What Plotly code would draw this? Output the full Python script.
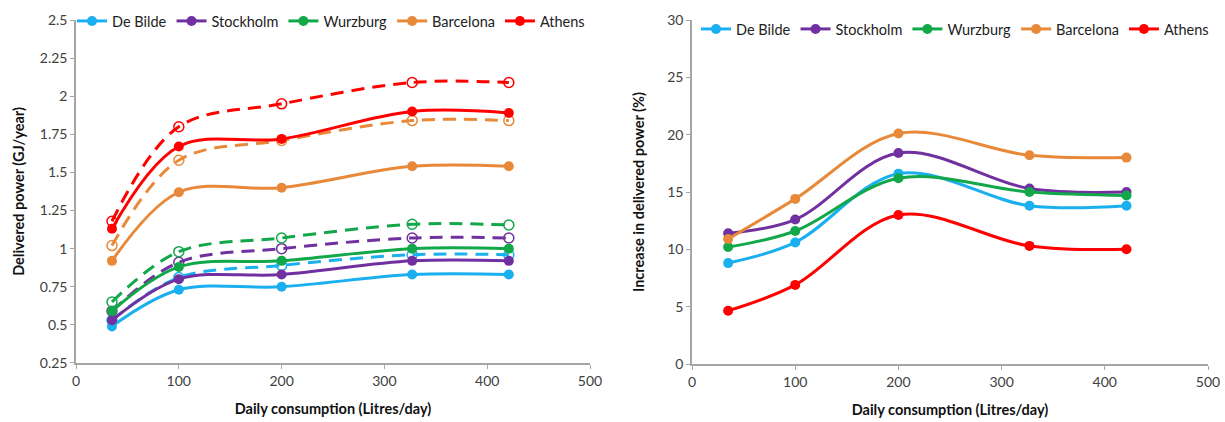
import plotly.graph_objects as go

x_vals = [35, 100, 200, 327, 421]
cities = ["De Bilde", "Stockholm", "Wurzburg", "Barcelona", "Athens"]
colors = ["#1AAFEF", "#7030A0", "#12A84A", "#E8893A", "#FF0000"]

# Left chart: delivered power (GJ/year), solid = base, dashed = improved
power_base = {
    "De Bilde":  [0.49, 0.73, 0.75, 0.83, 0.83],
    "Stockholm": [0.53, 0.80, 0.83, 0.92, 0.92],
    "Wurzburg":  [0.59, 0.88, 0.92, 1.00, 1.00],
    "Barcelona": [0.92, 1.37, 1.40, 1.54, 1.54],
    "Athens":    [1.13, 1.67, 1.72, 1.90, 1.89],
}
power_improved = {
    "De Bilde":  [0.53, 0.81, 0.89, 0.96, 0.96],
    "Stockholm": [0.59, 0.91, 1.00, 1.07, 1.07],
    "Wurzburg":  [0.65, 0.98, 1.07, 1.16, 1.155],
    "Barcelona": [1.02, 1.58, 1.71, 1.84, 1.84],
    "Athens":    [1.18, 1.80, 1.95, 2.09, 2.09],
}
# Right chart: increase in delivered power (%)
increase = {
    "De Bilde":  [8.8, 10.6, 16.6, 13.8, 13.8],
    "Stockholm": [11.4, 12.6, 18.4, 15.3, 15.0],
    "Wurzburg":  [10.2, 11.6, 16.2, 15.0, 14.7],
    "Barcelona": [10.9, 14.4, 20.1, 18.2, 18.0],
    "Athens":    [4.65, 6.9, 13.0, 10.3, 10.0],
}

x_ticks = [0, 100, 200, 300, 400, 500]
left_y_ticks = [0.25, 0.5, 0.75, 1, 1.25, 1.5, 1.75, 2, 2.25, 2.5]
right_y_ticks = [0, 5, 10, 15, 20, 25, 30]

FONT = "Lato"
fig = go.Figure()

for c, col in zip(cities, colors):
    fig.add_trace(go.Scatter(
        x=x_vals, y=power_improved[c], mode="lines+markers", name=c,
        line=dict(color=col, width=3, dash="13px,8px", shape="spline", smoothing=1),
        marker=dict(symbol="circle-open", size=10, color=col, line=dict(width=1.5)),
        showlegend=False, xaxis="x", yaxis="y"))
for c, col in zip(cities, colors):
    fig.add_trace(go.Scatter(
        x=x_vals, y=power_base[c], mode="lines+markers", name=c,
        line=dict(color=col, width=3, shape="spline", smoothing=1),
        marker=dict(symbol="circle", size=10, color=col),
        legend="legend", xaxis="x", yaxis="y"))
for c, col in zip(cities, colors):
    fig.add_trace(go.Scatter(
        x=x_vals, y=increase[c], mode="lines+markers", name=c,
        line=dict(color=col, width=3, shape="spline", smoothing=1),
        marker=dict(symbol="circle", size=10, color=col),
        legend="legend2", xaxis="x2", yaxis="y2"))

axis_common = dict(showgrid=False, zeroline=False, showline=True, linecolor="#A6A6A6",
                   linewidth=1.5, ticks="outside", ticklen=4, tickcolor="#A6A6A6",
                   automargin=False,
                   tickfont=dict(family=FONT, size=14, color="#404040"))
title_font = dict(family=FONT, size=14.5, color="#111111", weight="bold")

# plot area in pixels: l=76, r=17, t=20, b=58 -> width 1132, height 344
fig.update_layout(
    width=1225, height=422,
    margin=dict(l=76, r=17, t=20, b=58, autoexpand=False),
    paper_bgcolor="white", plot_bgcolor="white",
    xaxis=dict(domain=[0, 0.4541], range=[0, 500], tickvals=x_ticks,
               title=dict(text="Daily consumption (Litres/day)", font=title_font, standoff=16),
               anchor="y", **axis_common),
    yaxis=dict(domain=[0.003, 1], range=[0.25, 2.5], tickvals=left_y_ticks,
               title=dict(text="Delivered power (GJ/year)", font=title_font, standoff=12),
               anchor="x", **axis_common),
    xaxis2=dict(domain=[0.5442, 1], range=[0, 500], tickvals=x_ticks,
                title=dict(text="Daily consumption (Litres/day)", font=title_font, standoff=16),
                anchor="y2", **axis_common),
    yaxis2=dict(domain=[0, 1], range=[0, 30], tickvals=right_y_ticks,
                title=dict(text="Increase in delivered power (%)", font=title_font, standoff=19),
                anchor="x2", **axis_common),
    legend=dict(orientation="h", x=(72-76)/1132, y=1-(21-20)/344, xanchor="left", yanchor="middle",
                font=dict(family=FONT, size=14.5, color="#222222"), bgcolor="rgba(0,0,0,0)",
                itemwidth=30, tracegroupgap=0),
    legend2=dict(orientation="h", x=(696-76)/1132, y=1-(29-20)/344, xanchor="left", yanchor="middle",
                 font=dict(family=FONT, size=14.5, color="#222222"), bgcolor="rgba(0,0,0,0)",
                 itemwidth=30, tracegroupgap=0),
)

fig.write_html("out.html", config={"displayModeBar": False},
               post_script="document.body.style.margin='0px';")
